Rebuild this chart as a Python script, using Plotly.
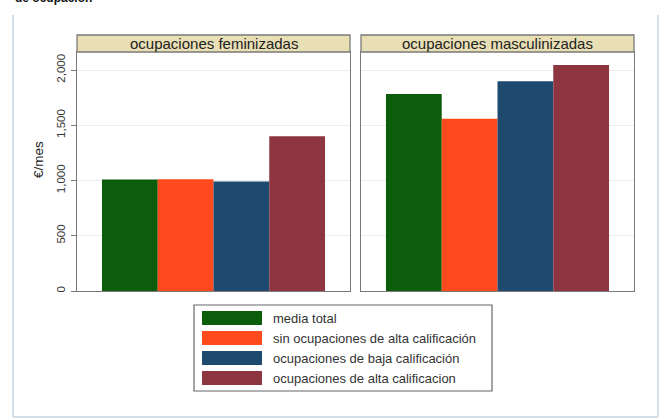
import plotly.graph_objects as go

panels = ["ocupaciones feminizadas", "ocupaciones masculinizadas"]
series = ["media total",
          "sin ocupaciones de alta calificación",
          "ocupaciones de baja calificación",
          "ocupaciones de alta calificacion"]
values_fem = [1010, 1012, 990, 1400]
values_mas = [1783, 1558, 1898, 2045]
colors = ["#0b5c0b", "#ff4a1d", "#1d4a6e", "#8d3641"]
y_ticks = [0, 500, 1000, 1500, 2000]
y_ticklabels = ["0", "500", "1,000", "1,500", "2,000"]

W, H = 662, 419
def px(x): return x / W
def py(y): return 1 - y / H

FONT = "Liberation Sans, Arial, sans-serif"
fig = go.Figure()

for vals, ax in [(values_fem, "x"), (values_mas, "x2")]:
    yax = "y" if ax == "x" else "y2"
    for name, v, c in zip(series, vals, colors):
        fig.add_trace(go.Bar(x=[0], y=[v], name=name, marker=dict(color=c, line=dict(width=0)),
                             xaxis=ax, yaxis=yax, showlegend=False))

dom1 = [px(77), px(350)]
dom2 = [px(361), px(634)]
ydom = [py(291), py(52)]
yrange = [0, 2163]

axis_common = dict(showline=True, linecolor="#7a7a7a", linewidth=1.3, mirror=True)
fig.update_layout(
    width=W, height=H, margin=dict(l=0, r=0, t=0, b=0),
    paper_bgcolor="white", plot_bgcolor="white",
    barmode="group", bargap=0.183, bargroupgap=0,
    font=dict(family=FONT, color="#333"),
    xaxis=dict(domain=dom1, range=[-0.5, 0.5], showticklabels=False, ticks="",
               showgrid=False, zeroline=False, **axis_common),
    xaxis2=dict(domain=dom2, range=[-0.5, 0.5], showticklabels=False, ticks="",
                showgrid=False, zeroline=False, anchor="y2", **axis_common),
    yaxis=dict(domain=ydom, range=yrange, tickvals=y_ticks, ticktext=y_ticklabels,
               tickangle=-90, ticks="outside", ticklen=5, tickcolor="#7a7a7a",
               tickfont=dict(size=11.5, color="#333"), showgrid=True, gridcolor="#ececec",
               gridwidth=1, zeroline=False, ticklabelstandoff=1, **axis_common),
    yaxis2=dict(domain=ydom, range=yrange, tickvals=y_ticks, showticklabels=False, ticks="",
                showgrid=True, gridcolor="#ececec", gridwidth=1, zeroline=False,
                anchor="x2", **axis_common),
)

shapes = []
annotations = []
# strips
for dom, title in zip([dom1, dom2], panels):
    shapes.append(dict(type="rect", xref="paper", yref="paper", x0=dom[0], x1=dom[1],
                       y0=py(52), y1=py(35), fillcolor="#e9dfb5",
                       line=dict(color="#7a7a7a", width=1.3), layer="above"))
    annotations.append(dict(xref="paper", yref="paper", x=(dom[0] + dom[1]) / 2,
                            y=(py(52) + py(35)) / 2, text=title, showarrow=False,
                            font=dict(size=15, color="#222"), xanchor="center", yanchor="middle"))

# y title
annotations.append(dict(xref="paper", yref="paper", x=px(39), y=py(160), text="€/mes",
                        textangle=-90, showarrow=False, font=dict(size=13.5, color="#222"),
                        xanchor="center", yanchor="middle"))

# legend (manual, wide swatches)
shapes.append(dict(type="rect", xref="paper", yref="paper", x0=px(194), x1=px(492),
                   y0=py(391), y1=py(305), fillcolor="white",
                   line=dict(color="#666", width=1.2)))
for i, (name, c) in enumerate(zip(series, colors)):
    top = 311 + 20 * i
    shapes.append(dict(type="rect", xref="paper", yref="paper", x0=px(202), x1=px(262),
                       y0=py(top + 14), y1=py(top), fillcolor=c, line=dict(width=0)))
    annotations.append(dict(xref="paper", yref="paper", x=px(271), y=py(top + 7), text=name,
                            showarrow=False, font=dict(size=13, color="#333"),
                            xanchor="left", yanchor="middle"))

# outer frame lines
frame_col = "#d3dfe9"
shapes.append(dict(type="line", xref="paper", yref="paper", x0=px(13), x1=px(13),
                   y0=py(417), y1=py(15), line=dict(color=frame_col, width=2)))
shapes.append(dict(type="line", xref="paper", yref="paper", x0=px(658), x1=px(658),
                   y0=py(417), y1=py(15), line=dict(color=frame_col, width=2)))
shapes.append(dict(type="line", xref="paper", yref="paper", x0=px(13), x1=px(658),
                   y0=py(417), y1=py(417), line=dict(color=frame_col, width=2)))

# clipped caption at top
annotations.append(dict(xref="paper", yref="paper", x=px(13), y=py(7), text="<b>de ocupación</b>",
                        showarrow=False, font=dict(size=12, color="#111"),
                        xanchor="left", yanchor="bottom"))

fig.update_layout(shapes=shapes, annotations=annotations)
fig.write_html("out.html", config={"displayModeBar": False},
               post_script="document.body.style.margin='0';document.body.style.overflow='hidden';")
